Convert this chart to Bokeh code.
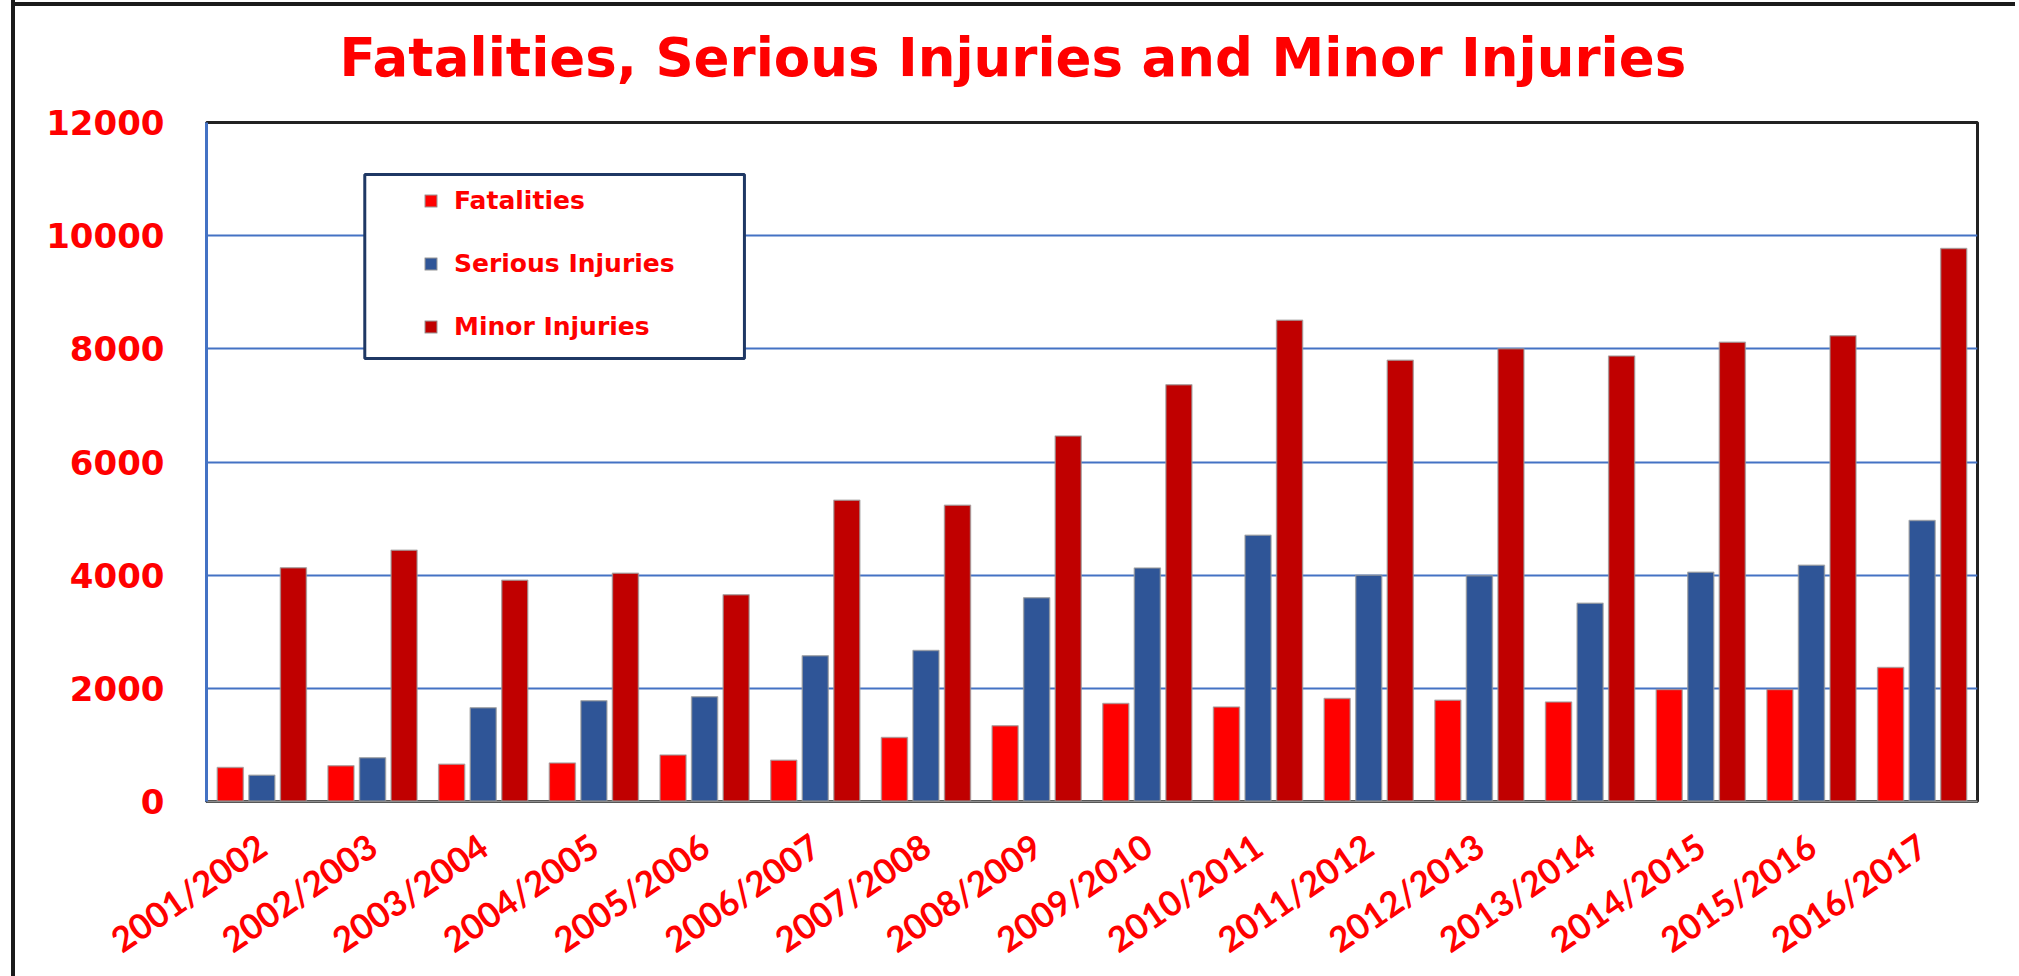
from bokeh.plotting import figure
from bokeh.models import (ColumnDataSource, FixedTicker, SingleIntervalTicker, Legend,
                          LegendItem, BoxAnnotation, Range1d)
from bokeh.transform import dodge
from bokeh.embed import file_html
from bokeh.resources import INLINE

title_text = "Fatalities, Serious Injuries and Minor Injuries"
years = ["2001/2002", "2002/2003", "2003/2004", "2004/2005", "2005/2006", "2006/2007",
         "2007/2008", "2008/2009", "2009/2010", "2010/2011", "2011/2012", "2012/2013",
         "2013/2014", "2014/2015", "2015/2016", "2016/2017"]
fatalities = [600, 630, 660, 680, 820, 730, 1130, 1340, 1730, 1670, 1820, 1790, 1760, 1980, 1980, 2370]
serious = [465, 775, 1655, 1780, 1850, 2575, 2670, 3600, 4125, 4705, 4000, 3990, 3505, 4050, 4175, 4965]
minor = [4130, 4440, 3910, 4035, 3655, 5325, 5235, 6460, 7365, 8505, 7800, 8000, 7875, 8115, 8230, 9775]
series_names = ["Fatalities", "Serious Injuries", "Minor Injuries"]
series_colors = ["#FF0000", "#2F5597", "#C00000"]

idx = list(range(len(years)))
src = ColumnDataSource(dict(idx=idx, fatalities=fatalities, serious=serious, minor=minor))

p = figure(frame_width=1771, frame_height=679,
           min_border_left=191, min_border_top=116, min_border_right=38, min_border_bottom=170,
           x_range=Range1d(-0.5, len(years) - 0.5), y_range=Range1d(0, 12000),
           output_backend="svg", toolbar_location=None,
           styles={"border-left": "4px solid #1a1a1a",
                   "margin-left": "11px", "margin-top": "-7px",
                   "background-color": "white",
                   "background-image": "linear-gradient(#1a1a1a, #1a1a1a)",
                   "background-repeat": "no-repeat",
                   "background-size": "100% 4px",
                   "background-position": "0px 9px"})

p.title.text = title_text
p.title.text_font = "DejaVu Sans"
p.title.text_font_style = "bold"
p.title.text_font_size = "53px"
p.title.text_color = "#FF0000"
p.title.align = "left"
p.title.offset = 133
p.title.vertical_align = "top"
p.title.standoff = 66

p.background_fill_color = "white"
p.border_fill_alpha = 0
p.outline_line_color = "#222222"
p.outline_line_width = 3

# gridlines
p.xgrid.grid_line_color = None
p.ygrid.grid_line_color = "#4472C4"
p.ygrid.grid_line_width = 2

# y axis
p.yaxis.ticker = SingleIntervalTicker(interval=2000)
p.yaxis.minor_tick_line_color = None
p.yaxis.major_tick_line_color = None
p.yaxis.axis_line_color = "#4472C4"
p.yaxis.axis_line_width = 3
p.yaxis.major_label_text_font = "DejaVu Sans"
p.yaxis.major_label_text_font_style = "bold"
p.yaxis.major_label_text_font_size = "34px"
p.yaxis.major_label_text_color = "#FF0000"
p.yaxis.major_label_standoff = 36

# x axis
p.xaxis.ticker = FixedTicker(ticks=idx)
p.xaxis.major_label_overrides = {i: y for i, y in zip(idx, years)}
p.xaxis.minor_tick_line_color = None
p.xaxis.major_tick_line_color = None
p.xaxis.axis_line_color = "#8c8c8c"
p.xaxis.axis_line_width = 2
p.xaxis.major_label_orientation = 0.60
p.xaxis.major_label_text_font = "Lato"
p.xaxis.major_label_text_font_style = "bold"
p.xaxis.major_label_text_font_size = "35px"
p.xaxis.major_label_text_color = "#FF0000"
p.xaxis.major_label_standoff = 34

bw = 0.235
off = 0.285
renderers = []
for field, shift, color in zip(["fatalities", "serious", "minor"], [-off, 0.0, off], series_colors):
    r = p.vbar(x=dodge("idx", shift, range=p.x_range), top=field, width=bw, bottom=0,
               source=src, fill_color=color, line_color="#9a9a9a", line_alpha=0.7, line_width=1.5)
    renderers.append(r)

# legend frame
box = BoxAnnotation(left=0.93, right=4.36, bottom=7830, top=11080,
                    fill_color="white", fill_alpha=1.0, line_color="#1F3864", line_alpha=1.0,
                    line_width=3)
p.add_layout(box)

legend = Legend(items=[LegendItem(label=n, renderers=[r]) for n, r in zip(series_names, renderers)],
                location=(217, 460), padding=0, spacing=34, glyph_width=15, glyph_height=15,
                label_standoff=16, border_line_alpha=0, background_fill_alpha=0,
                label_text_font="DejaVu Sans", label_text_font_style="bold",
                label_text_font_size="25px", label_text_color="#FF0000")
p.add_layout(legend)

open("out.html", "w").write(file_html(p, INLINE))
